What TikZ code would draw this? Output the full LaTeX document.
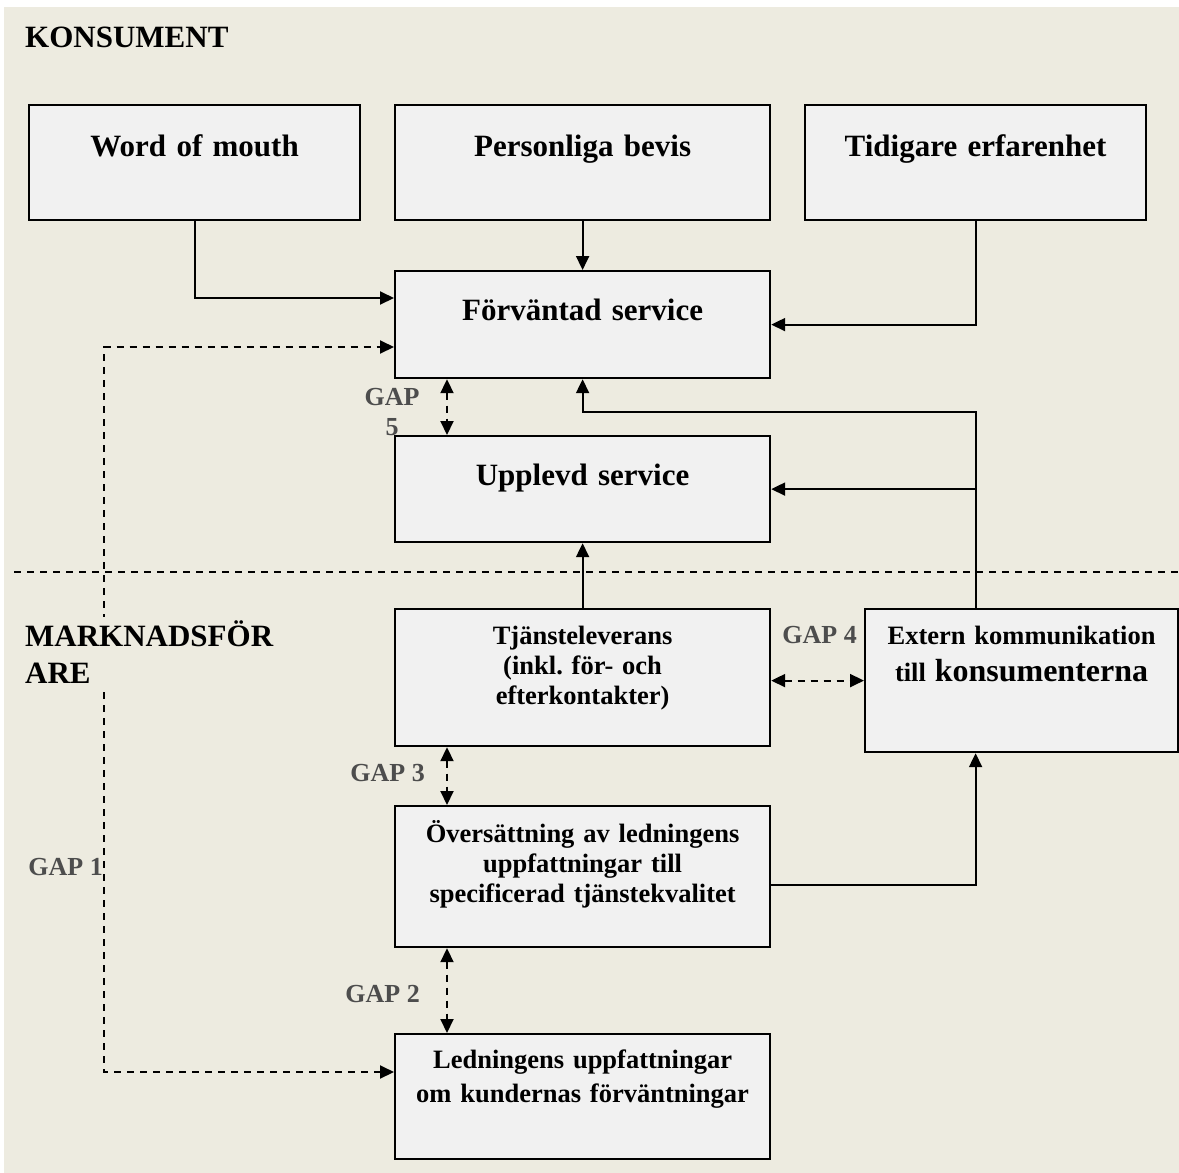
\documentclass[tikz,border=0pt]{standalone}
\usepackage{fontspec}
\setmainfont{Liberation Serif}
\usepackage{tikz}
\usetikzlibrary{positioning,arrows.meta,calc}
\frenchspacing

\definecolor{bgbeige}{HTML}{EDEBE0}
\definecolor{boxgray}{HTML}{F1F1F1}
\definecolor{gapgray}{HTML}{4D4D4D}

\begin{document}
\begin{tikzpicture}[
  x=1pt, y=-1pt,
  >={Triangle[length=14pt,width=13pt]},
  blk/.style={draw, line width=2.2pt, fill=boxgray, inner sep=0pt,
              align=center, anchor=north west, font=\bfseries},
  big/.style={font=\bfseries\fontsize{31}{37}\selectfont},
  small/.style={font=\bfseries\fontsize{26.5}{30}\selectfont},
  gaplbl/.style={font=\bfseries\fontsize{26}{30}\selectfont, text=gapgray,
                 inner sep=0pt, align=center},
  arr/.style={->, line width=2pt},
  dline/.style={line width=2pt, dash pattern=on 7pt off 6pt},
]
  % background
  \useasboundingbox (0,0) rectangle (1179,1173);
  \fill[bgbeige] (4,7) rectangle (1179,1173);

  % consumer side
  \node[big, anchor=base west, inner sep=0pt] (kons) at (25,47) {KONSUMENT};

  \node[blk, big, text width=331pt, text height=51pt, text depth=64pt]
       (wom) at (28,104) {Word of mouth};
  \node[blk, big, text width=375pt, text height=51pt, text depth=64pt]
       (pers) at (394,104) {Personliga bevis};
  \node[blk, big, text width=341pt, text height=51pt, text depth=64pt]
       (tid) at (804,104) {Tidigare erfarenhet};

  \node[blk, big, text width=375pt, text height=49pt, text depth=58pt]
       (forv) at (394,270) {Förväntad service};
  \node[blk, big, text width=375pt, text height=49pt, text depth=57pt]
       (uppl) at (394,435) {Upplevd service};

  % border between consumer and marketer
  \coordinate (divl) at (14,572);
  \coordinate (divr) at (1179,572);
  \draw[line width=1.5pt, dash pattern=on 7pt off 6pt] (divl) -- (divr);

  % marketer side
  \node[blk, small, text width=375pt, text height=35pt, text depth=102pt]
       (tjan) at (394,608) {Tjänsteleverans\\(inkl. för- och\\efterkontakter)};
  \node[blk, small, text width=313pt, text height=35pt, text depth=108pt]
       (ext) at (864,608)
       {Extern kommunikation\\[7pt]till {\fontsize{32}{37}\selectfont konsumenterna}};
  \node[blk, small, text width=375pt, text height=36pt, text depth=105pt]
       (overs) at (394,805)
       {Översättning av ledningens\\uppfattningar till\\specificerad tjänstekvalitet};
  \node[blk, small, text width=375pt, text height=34pt, text depth=91pt]
       (led) at (394,1033)
       {Ledningens uppfattningar\\[4pt]om kundernas förväntningar};

  % solid flows
  \draw[arr] (wom.south) |- ($(forv.north west)+(0,28)$);
  \draw[arr] (pers.south) -- (forv.north);
  \draw[arr] (tid.south) |- (forv.east);
  \draw[arr] (tjan.north) -- (uppl.south);
  \coordinate (extup) at (ext.north -| tid.south);
  \draw[arr] (extup) |- ($(forv.south)+(0,33)$) -- (forv.south);
  \draw[arr] (extup |- uppl.east) -- (uppl.east);
  \draw[arr] ($(overs.east)+(0,8)$) -| (ext.south -| tid.south);

  % gaps
  \coordinate (gx) at (447,0);
  \draw[dline, <->] (forv.south -| gx) -- (uppl.north -| gx);
  \draw[dline, <->] (tjan.south -| gx) -- (overs.north -| gx);
  \draw[dline, <->] (overs.south -| gx) -- (led.north -| gx);
  \draw[dline, <->] (tjan.east |- ext.west) -- (ext.west);
  \coordinate (g1top) at (104,347);
  \coordinate (g1bot) at (104,1072);
  \draw[dline, <->] (g1bot -| led.west) -- (g1bot) -- (g1top) -- (g1top -| forv.west);

  \node[big, anchor=base west, align=left, fill=bgbeige, inner sep=3pt]
       (mark) at (22,683) {MARKNADSFÖR\\ARE};

  \node[gaplbl, anchor=base] (gap5) at (392,435) {GAP\\5};
  \node[gaplbl, anchor=base east] (gap4) at (857,643) {GAP 4};
  \node[gaplbl, anchor=base east] (gap3) at (425,781) {GAP 3};
  \node[gaplbl, anchor=base east] (gap2) at (420,1002) {GAP 2};
  \node[gaplbl, anchor=base east] (gap1) at (103,875) {GAP 1};
\end{tikzpicture}
\end{document}
